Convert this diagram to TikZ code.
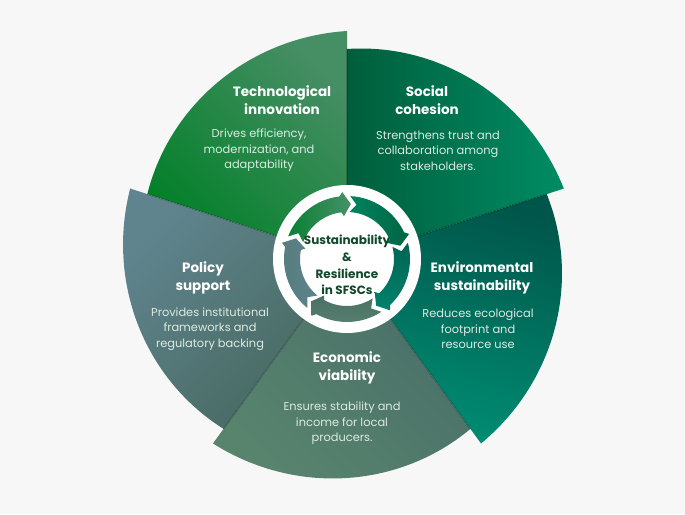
\documentclass[tikz,border=0pt]{standalone}
\usepackage{fontspec}
\setmainfont{Poppins}
\definecolor{bg}{RGB}{247,247,247}
\definecolor{titlec}{RGB}{255,255,255}
\definecolor{descc}{RGB}{220,235,226}
\definecolor{centc}{RGB}{16,72,42}
\newcommand\mysector[3]{%
  \shade[#3] (0,0) -- plot[domain=#1:#2, samples=60] (\x:{210+18*(#1-\x)/72}) -- cycle;}
% ring segment: hi angle, lo angle, fill options
\newcommand\myseg[3]{%
  \pgfmathsetmacro\sgTa{#1-3}\pgfmathsetmacro\sgTb{#1-10}%
  \pgfmathsetmacro\sgHa{#2+7}\pgfmathsetmacro\sgHf{#2+4}\pgfmathsetmacro\sgHt{#2-4}%
  \shade[#3] (\sgTa:63) arc[start angle=\sgTa, end angle=\sgHa, radius=63pt]
     -- (\sgHf:67) -- (\sgHt:55) -- (\sgHf:43) -- (\sgHa:47)
     arc[start angle=\sgHa, end angle=\sgTa, radius=47pt] -- (\sgTb:55) -- cycle;}
\tikzset{
  ttl/.style={text=titlec, align=center, font=\fontsize{13.5}{18}\selectfont\bfseries},
  dsc/.style={text=descc, align=center, font=\fontsize{11.4}{15.5}\selectfont},
  cnt/.style={text=centc, align=center, font=\fontsize{12}{16.7}\selectfont\bfseries},
  shadowline/.style={black, opacity=.18, line width=1.6pt}
}
\begin{document}
\begin{tikzpicture}[x=1pt,y=1pt]
\fill[bg] (0,0) rectangle (685,514);
\useasboundingbox (0,0) rectangle (685,514);
\begin{scope}[shift={(347,255)}]
  % sectors
  \mysector{162}{90}{top color={rgb,255:red,70;green,142;blue,100}, bottom color={rgb,255:red,2;green,128;blue,40}, shading angle=-45}
  \mysector{90}{18}{top color={rgb,255:red,0;green,94;blue,60}, bottom color={rgb,255:red,0;green,140;blue,100}, shading angle=90}
  \mysector{18}{-54}{top color={rgb,255:red,0;green,86;blue,74}, bottom color={rgb,255:red,0;green,142;blue,116}, shading angle=-15}
  \mysector{-54}{-126}{top color={rgb,255:red,72;green,110;blue,104}, bottom color={rgb,255:red,88;green,132;blue,110}, shading angle=-45}
  \mysector{-126}{-198}{top color={rgb,255:red,96;green,132;blue,142}, bottom color={rgb,255:red,70;green,104;blue,94}, shading angle=45}
  % soft boundary shadows
  \draw[shadowline] (0,0) -- (90:210);
  \draw[shadowline] (0,0) -- (18:210);
  \draw[shadowline] (0,0) -- (-54:210);
  \draw[shadowline] (0,0) -- (-126:210);
  \draw[shadowline] (0,0) -- (162:210);
  % centre disc
  \fill[white] (0,0) circle[radius=74pt];
  \myseg{162}{90}{top color={rgb,255:red,10;green,128;blue,52}, bottom color={rgb,255:red,70;green,145;blue,105}, shading angle=90}
  \myseg{90}{18}{top color={rgb,255:red,0;green,100;blue,66}, bottom color={rgb,255:red,0;green,132;blue,96}, shading angle=-90}
  \myseg{18}{-54}{top color={rgb,255:red,0;green,100;blue,84}, bottom color={rgb,255:red,0;green,130;blue,108}}
  \myseg{-54}{-126}{top color={rgb,255:red,74;green,112;blue,102}, bottom color={rgb,255:red,86;green,128;blue,110}}
  \myseg{-126}{-198}{top color={rgb,255:red,88;green,124;blue,126}, bottom color={rgb,255:red,92;green,132;blue,140}, shading angle=90}
\end{scope}
% texts
\node[ttl] (t1) at (282,414) {Technological\\innovation};
\node[dsc] (d1) at (259,363.5) {Drives efficiency,\\modernization, and\\adaptability};
\node[ttl] (t2) at (427,414) {Social\\cohesion};
\node[dsc] (d2) at (438,363.5) {Strengthens trust and\\collaboration among\\stakeholders.};
\node[ttl] (t3) at (482,236) {Environmental\\sustainability};
\node[dsc] (d3) at (478,185) {Reduces ecological\\footprint and\\resource use};
\node[ttl] (t4) at (347,146) {Economic\\viability};
\node[dsc] (d4) at (342,90.5) {Ensures stability and\\income for local\\producers.};
\node[ttl] (t5) at (203,236) {Policy\\support};
\node[dsc] (d5) at (210,185) {Provides institutional\\frameworks and\\regulatory backing};
\node[cnt] (c) at (347,249) {Sustainability\\\&\\Resilience\\in SFSCs};
\end{tikzpicture}
\end{document}
